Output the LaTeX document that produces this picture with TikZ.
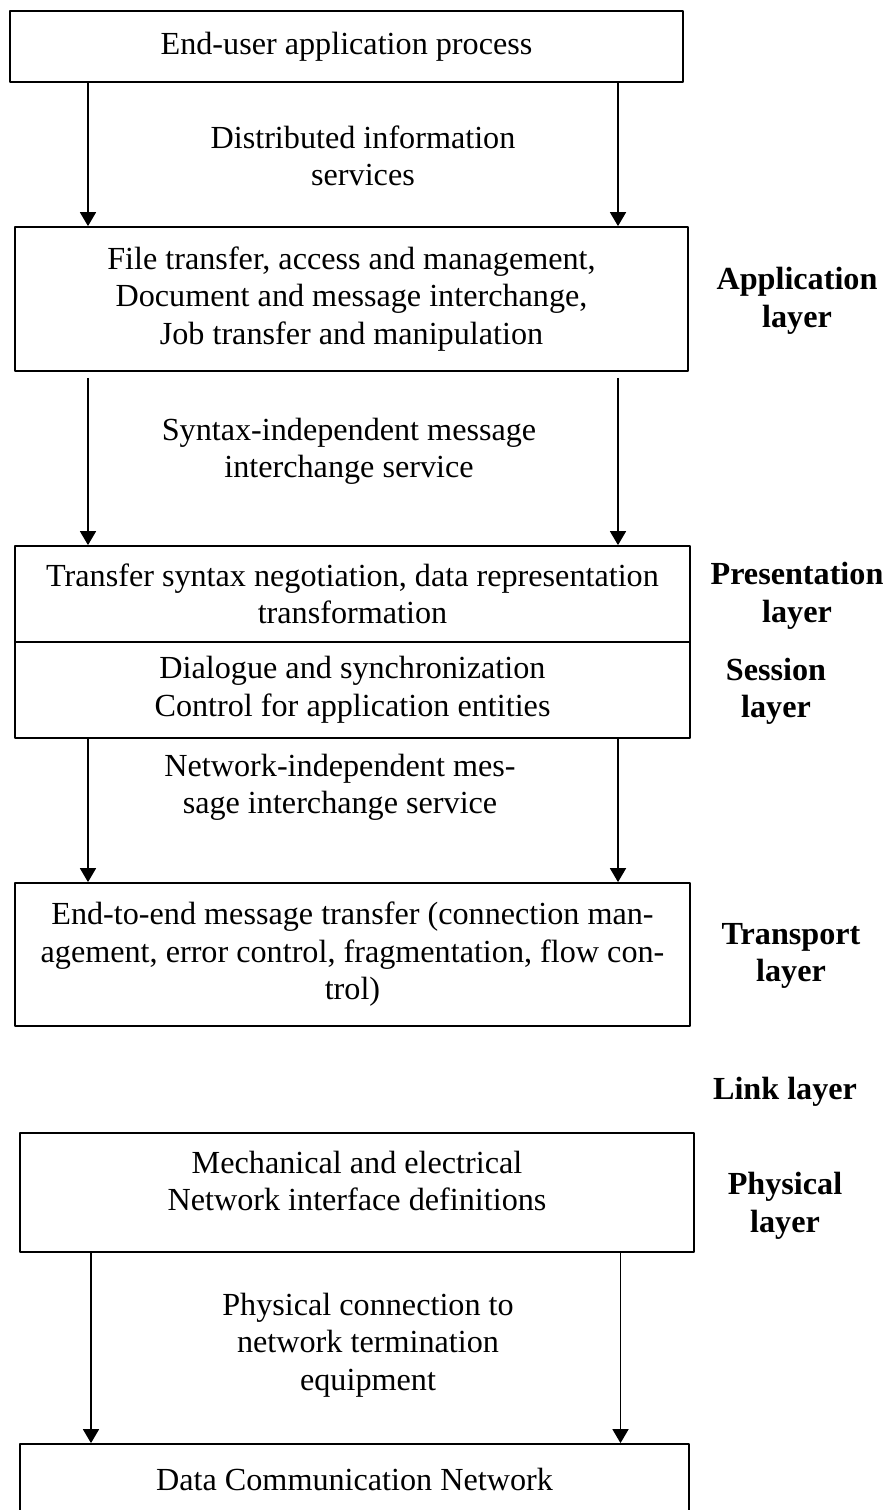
\documentclass[tikz,border=0pt]{standalone}
\usepackage{fontspec}
\setmainfont{Liberation Serif}
\usetikzlibrary{arrows.meta}
\def\pxu{0.37273pt}
\begin{document}
\begin{tikzpicture}[x=0.0131cm, y=-0.0131cm, font=\fontsize{12}{14}\selectfont, line join=round, >={Triangle[length=5.2pt,width=6pt]}]
\tikzset{
  box/.style={draw, line width=0.7pt, rectangle, inner sep=0pt, align=center},
  txt/.style={align=center, inner sep=0pt},
  lay/.style={align=center, inner sep=0pt, font=\fontsize{12}{14}\selectfont\bfseries},
  arr/.style={->, line width=0.45pt}
}
\clip (0,0) rectangle (883,1510);
% x positions of the arrows
\coordinate (xl) at (88,0);
\coordinate (xr) at (618,0);
\coordinate (xll) at (91,0);
\coordinate (xrr) at (620.5,0);
% the boxes
\node[box, minimum width=673*\pxu, minimum height=71*\pxu] (enduser) at (346.5,46.5) {End-user application process};
\node[box, minimum width=673*\pxu, minimum height=144*\pxu] (apps) at (351.5,299) {File transfer, access and management,\\Document and message interchange,\\Job transfer and manipulation};
\node[box, minimum width=675*\pxu, minimum height=96*\pxu] (pres) at (352.5,594) {Transfer syntax negotiation, data representation\\transformation};
\node[box, minimum width=675*\pxu, minimum height=96*\pxu] (sess) at (352.5,690) {Dialogue and synchronization\\Control for application entities};
\node[box, minimum width=675*\pxu, minimum height=143*\pxu] (trans) at (352.5,954.5) {End-to-end message transfer (connection man-\\agement, error control, fragmentation, flow con-\\trol)};
\node[box, minimum width=674*\pxu, minimum height=119*\pxu] (phys) at (357,1192.5) {};
\node[txt] (physt) at (357,1181) {Mechanical and electrical\\Network interface definitions};
\node[box, minimum width=669*\pxu, minimum height=71*\pxu] (dcn) at (354.5,1479.5) {Data Communication Network};
% services between the boxes
\draw[arr] (enduser.south -| xl) -- (apps.north -| xl);
\draw[arr] (enduser.south -| xr) -- (apps.north -| xr);
\node[txt] (dis) at (363,156) {Distributed information\\services};
\draw[arr, shorten <=2.2pt] (apps.south -| xl) -- (pres.north -| xl);
\draw[arr, shorten <=2.2pt] (apps.south -| xr) -- (pres.north -| xr);
\node[txt] (syn) at (349,451.5) {Syntax-independent message\\interchange service};
\draw[arr] (sess.south -| xl) -- (trans.north -| xl);
\draw[arr] (sess.south -| xr) -- (trans.north -| xr);
\node[txt] (net) at (340,787.5) {Network-independent mes-\\sage interchange service};
\draw[arr] (phys.south -| xll) -- (dcn.north -| xll);
\draw[arr] (phys.south -| xrr) -- (dcn.north -| xrr);
\node[txt] (con) at (368,1345) {Physical connection to\\network termination\\equipment};
% layer names
\node[lay] (lapp) at (797,301) {Application\\layer};
\node[lay] (lpres) at (797,596) {Presentation\\layer};
\node[lay] (lsess) at (776,691.5) {Session\\layer};
\node[lay] (ltrans) at (791,956) {Transport\\layer};
\node[lay] (llink) at (785,1092) {Link layer};
\node[lay] (lphys) at (785,1206) {Physical\\layer};
\end{tikzpicture}
\end{document}
